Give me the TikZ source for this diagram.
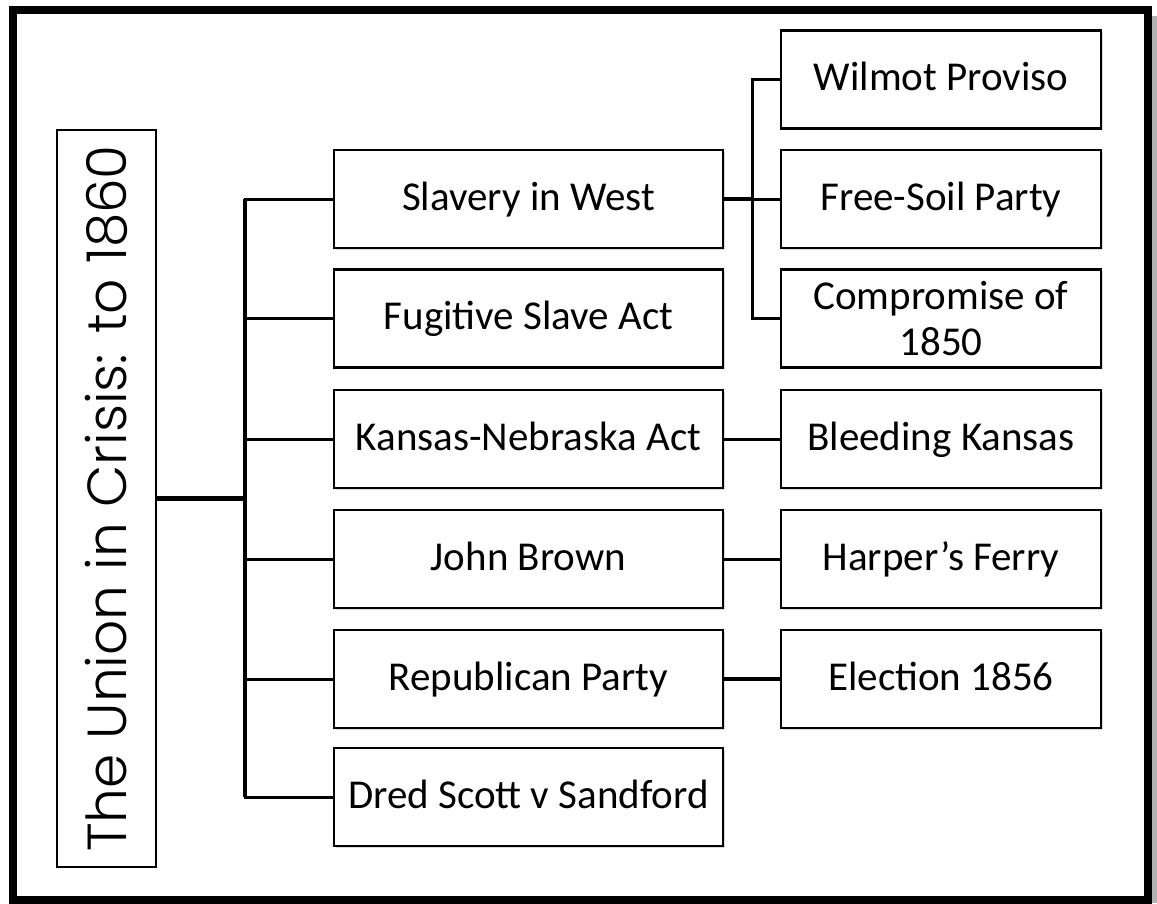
\documentclass[tikz,border=0pt]{standalone}
\usepackage{fontspec}
\setmainfont{Carlito}
\newfontfamily\titlefont{Poppins Light}
\usetikzlibrary{shadows}

\begin{document}
\begin{tikzpicture}[x=1pt,y=-1pt,
	plainbox/.style={draw,line width=2.2pt,fill=white,minimum width=389pt,minimum height=98pt,
		inner sep=0pt,align=center,font=\fontsize{41}{46}\selectfont,
		drop shadow={opacity=0.3,shadow xshift=1.5pt,shadow yshift=-1.5pt}},
	box/.style={plainbox,text height=30pt,text depth=8pt},
	subbox/.style={box,minimum width=320pt},
	link/.style={line width=3pt},
	trunk/.style={line width=4.5pt}]
	\useasboundingbox (0,0) rectangle (1157,903);
	\draw[gray!60,line width=5pt] (1154.5,16) -- (1154.5,903);
	\draw[line width=8pt] (13,10) rectangle (1147.5,899.5);

	% title, turned upright
	\node[draw,line width=1.6pt,rotate=90,minimum width=737pt,minimum height=99pt,inner sep=0pt,
		font=\titlefont\fontsize{55}{60}\selectfont] (root) at (106.5,498.5) {The Union in Crisis: to 1860};

	\node[box] (west) at (528.5,199) {Slavery in West};
	\node[box] (fugitive) at (528.5,318.5) {Fugitive Slave Act};
	\node[box] (kansas) at (528.5,439) {Kansas-Nebraska Act};
	\node[box] (brown) at (528.5,559) {John Brown};
	\node[box] (repub) at (528.5,679) {Republican Party};
	\node[box] (dred) at (528.5,797) {Dred Scott v Sandford};

	\node[subbox] (wilmot) at (941,79.5) {Wilmot Proviso};
	\node[subbox] (freesoil) at (941,199) {Free-Soil Party};
	\node[plainbox,minimum width=320pt] (compromise) at (941,318.5) {Compromise of\\1850};
	\node[subbox] (bleeding) at (941,439) {Bleeding Kansas};
	\node[subbox] (harper) at (941,559) {Harper’s Ferry};
	\node[subbox] (election) at (941,679) {Election 1856};

	\coordinate (bus) at (245,498.5);
	\coordinate (subbus) at (752,199);

	\foreach \n in {west,fugitive,kansas,brown,repub,dred}
		\draw[link] (bus) |- (\n.west);
	\draw[line width=4pt] (bus |- west.west) -- (bus |- dred.west);
	\draw[line width=5pt] (root.south) -- (bus);

	\draw[trunk] (west.east) -- (subbus);
	\foreach \n in {wilmot,freesoil,compromise}
		\draw[link] (subbus) |- (\n.west);

	\draw[link] (kansas) -- (bleeding);
	\draw[link] (brown) -- (harper);
	\draw[trunk] (repub) -- (election);
\end{tikzpicture}
\end{document}
